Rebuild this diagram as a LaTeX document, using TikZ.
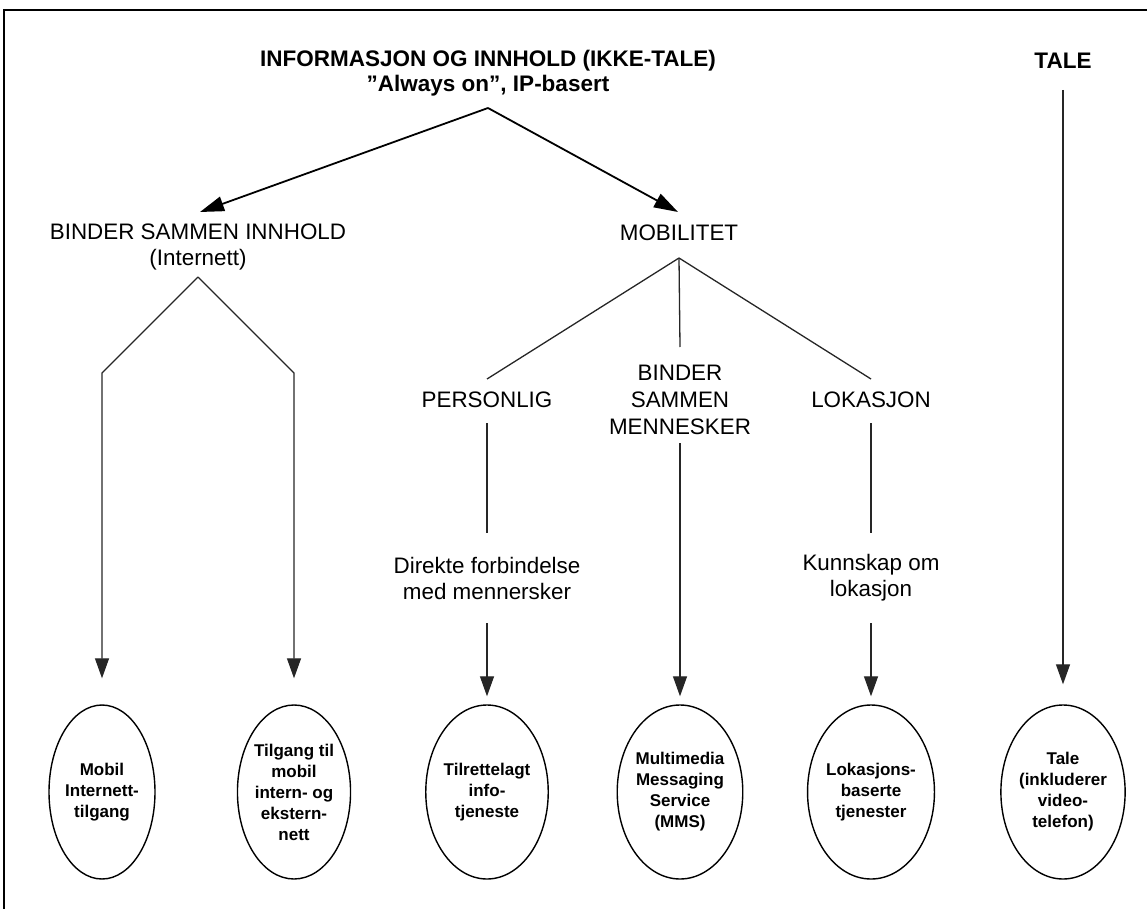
\documentclass[tikz,border=0pt]{standalone}
\usepackage{fontspec}
\setmainfont{Liberation Sans}
\usetikzlibrary{arrows.meta,shapes.geometric}
\begin{document}
\begin{tikzpicture}[x=1pt,y=-1pt,
  lbl/.style={font=\fontsize{22.4}{26}\selectfont, align=center, inner sep=0pt},
  lbltri/.style={font=\fontsize{22.4}{27}\selectfont, align=center, inner sep=0pt},
  ttl/.style={font=\bfseries\fontsize{22.5}{25.5}\selectfont, align=center, inner sep=0pt},
  oval/.style={draw, ellipse, line width=1.4pt, minimum width=106pt, minimum height=174pt, inner sep=0pt, font=\bfseries\fontsize{17}{21}\selectfont, align=center},
  conn/.style={line width=1.3pt, draw=black!85},
  arr/.style={conn, -{Triangle[width=14pt,length=20pt]}},
  bigarr/.style={line width=1.8pt, -{Triangle[width=15pt,length=24pt]}}
]
\useasboundingbox (0,0) rectangle (1147,909);
\begin{scope}
  \clip (0,0) rectangle (1147,909);
  \draw[line width=2.5pt] (4,10) rectangle (1175,935);
\end{scope}

% top labels
\node[ttl] (title) at (488,73) {INFORMASJON OG INNHOLD (IKKE-TALE)\\”Always on”, IP-basert};
\node[ttl] (tale) at (1063,61) {TALE};

% second level
\node[lbl] (bsi) at (198,247) {BINDER SAMMEN INNHOLD\\(Internett)};
\node[lbl] (mob) at (679,233) {MOBILITET};

% third level
\node[lbl] (pers) at (487,400) {PERSONLIG};
\node[lbltri] (bsm) at (680,400) {BINDER\\SAMMEN\\MENNESKER};
\node[lbl] (lok) at (871,400) {LOKASJON};

\node[lbl] (dir) at (487,578) {Direkte forbindelse\\med mennersker};
\node[lbl] (kun) at (871,578) {Kunnskap om\\lokasjon};

% ellipses
\node[oval] (e1) at (102,792) {Mobil\\Internett-\\tilgang};
\node[oval] (e2) at (294,792) {Tilgang til\\mobil\\intern- og\\ekstern-\\nett};
\node[oval] (e3) at (487,792) {Tilrettelagt\\info-\\tjeneste};
\node[oval] (e4) at (680,792) {Multimedia\\Messaging\\Service\\(MMS)};
\node[oval] (e5) at (871,792) {Lokasjons-\\baserte\\tjenester};
\node[oval] (e6) at (1063,792) {Tale\\(inkluderer\\video-\\telefon)};

% junction coordinates
\coordinate (ta) at (488,108);
\coordinate (bsiIn) at (200,212);
\coordinate (mobIn) at (678,212);
\coordinate (a1) at (198,277);
\coordinate (c1) at (102,373);
\coordinate (c2) at (294,373);
\coordinate (a2) at (679,258);
\coordinate (persTop) at (487,379);
\coordinate (bsmTop) at (680,347);
\coordinate (lokTop) at (871,379);
\coordinate (persBot) at (487,423);
\coordinate (persEnd) at (487,533);
\coordinate (dirBot) at (487,623);
\coordinate (bsmBot) at (680,443);
\coordinate (lokBot) at (871,423);
\coordinate (lokEnd) at (871,533);
\coordinate (kunBot) at (871,623);
\coordinate (taleBot) at (1063,90);

% connectors
\draw[bigarr] (ta) -- (bsiIn);
\draw[bigarr] (ta) -- (mobIn);

\draw[arr, shorten >=26pt] (a1) -- (c1) -- (e1);
\draw[arr, shorten >=26pt] (a1) -- (c2) -- (e2);

\draw[conn] (a2) -- (persTop);
\draw[conn] (a2) -- (bsmTop);
\draw[conn] (a2) -- (lokTop);

\draw[conn] (persBot) -- (persEnd);
\draw[arr, shorten >=8pt] (dirBot) -- (e3);
\draw[arr, shorten >=8pt] (bsmBot) -- (e4);
\draw[conn] (lokBot) -- (lokEnd);
\draw[arr, shorten >=8pt] (kunBot) -- (e5);
\draw[arr, shorten >=20pt] (taleBot) -- (e6);
\end{tikzpicture}
\end{document}
